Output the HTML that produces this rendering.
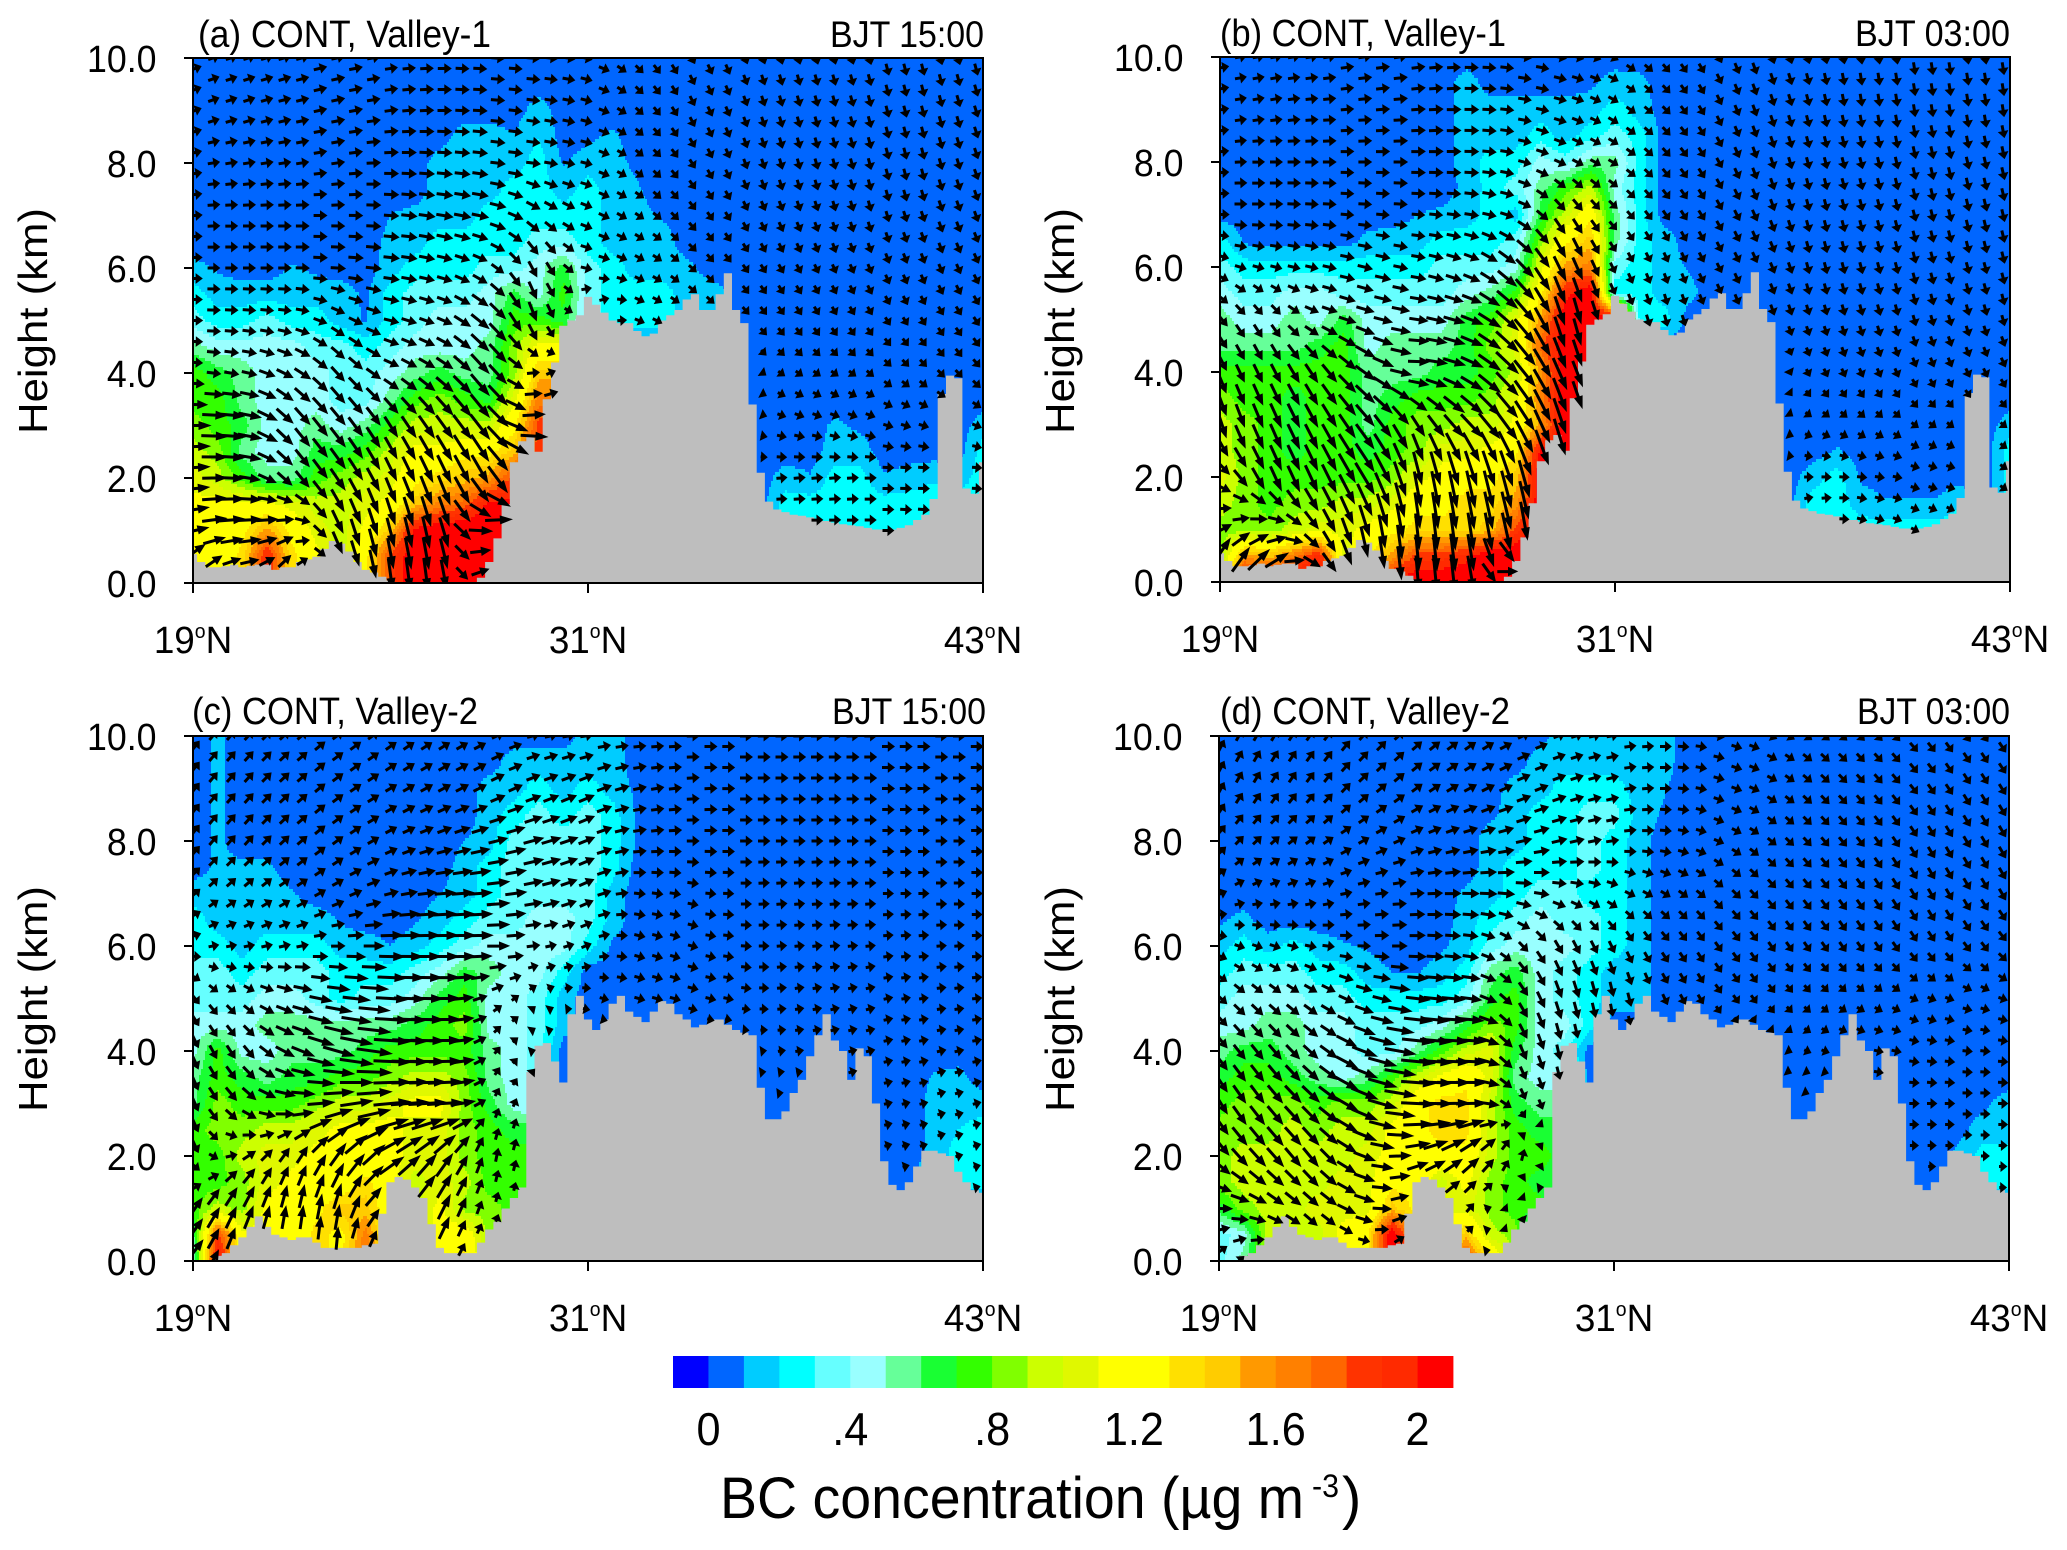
<!DOCTYPE html>
<html lang="en">
<head>
<meta charset="utf-8">
<title>BC concentration cross-sections</title>
<style>
html,body{margin:0;padding:0;background:#fff}
svg{display:block}
text{font-family:"Liberation Sans",sans-serif;fill:#000}
</style>
</head>
<body>
<svg id="figure" xmlns="http://www.w3.org/2000/svg" width="2067" height="1550" viewBox="0 0 2067 1550">
<rect width="2067" height="1550" fill="#fff"/>
<g id="plots"></g>

<text x="198" y="47" font-size="38" textLength="293" lengthAdjust="spacingAndGlyphs">(a) CONT, Valley-1</text>
<text x="830" y="47" font-size="37" textLength="154" lengthAdjust="spacingAndGlyphs">BJT 15:00</text>
<text x="1220" y="46" font-size="38" textLength="286" lengthAdjust="spacingAndGlyphs">(b) CONT, Valley-1</text>
<text x="1855" y="46" font-size="37" textLength="155" lengthAdjust="spacingAndGlyphs">BJT 03:00</text>
<text x="192" y="724" font-size="38" textLength="286" lengthAdjust="spacingAndGlyphs">(c) CONT, Valley-2</text>
<text x="832" y="724" font-size="37" textLength="154" lengthAdjust="spacingAndGlyphs">BJT 15:00</text>
<text x="1220" y="724" font-size="38" textLength="290" lengthAdjust="spacingAndGlyphs">(d) CONT, Valley-2</text>
<text x="1857" y="724" font-size="37" textLength="153" lengthAdjust="spacingAndGlyphs">BJT 03:00</text>

<text transform="translate(47,434) rotate(-90)" font-size="41" textLength="226" lengthAdjust="spacingAndGlyphs">Height (km)</text>
<text transform="translate(1074,434) rotate(-90)" font-size="41" textLength="226" lengthAdjust="spacingAndGlyphs">Height (km)</text>
<text transform="translate(47,1112) rotate(-90)" font-size="41" textLength="226" lengthAdjust="spacingAndGlyphs">Height (km)</text>
<text transform="translate(1074,1112) rotate(-90)" font-size="41" textLength="226" lengthAdjust="spacingAndGlyphs">Height (km)</text>

<g id="colorbar"></g>
<text x="720" y="1518" font-size="58" textLength="584" lengthAdjust="spacingAndGlyphs">BC concentration (µg m</text>
<text x="1312" y="1497" font-size="32" textLength="27" lengthAdjust="spacingAndGlyphs">-3</text>
<text x="1342" y="1518" font-size="58">)</text>
</svg>

<script>
// ---- Axis ticks ----
const heightTicks = [0, 2, 4, 6, 8, 10];
const heightTickLabels = ["0.0", "2.0", "4.0", "6.0", "8.0", "10.0"];
const latTicks = [19, 31, 43];
const latTickLabels = ["19", "31", "43"];

// ---- Colour scale: one colour per 0.1 ug/m3 band ----
const bandColors = ["#0000ff","#0066ff","#00ccff","#00ffff","#66ffff","#99ffff","#66ff99","#19ff33","#33ff00","#80ff00","#ccff00","#e0f800","#ffff00","#ffff00","#ffe000","#ffcc00","#ff9900","#ff8000","#ff6600","#ff3300","#ff2a00","#ff0000"];
const colorbarTicks = [1, 5, 9, 13, 17, 21];
const colorbarTickLabels = ["0", ".4", ".8", "1.2", "1.6", "2"];

// ---- Terrain height (km) every 0.25 deg latitude from 19N ----
const terrainValley1 = [.55,.4,.3,.3,.32,.35,.3,.33,.35,.35,.25,.3,.3,.4,.45,.5,.65,.8,.75,.6,.4,.25,.2,.12,.05,0,0,0,0,0,0,0,0,0,0,.1,.4,.85,1.5,2.3,2.7,2.8,2.5,3.5,4.2,4.9,5,5.1,5.45,5.3,5.15,5,4.95,4.95,4.8,4.7,4.75,5,5.1,5.2,5.4,5.5,5.2,5.2,5.5,5.9,5.2,4.95,3.4,2.1,1.55,1.4,1.35,1.3,1.28,1.25,1.22,1.18,1.15,1.12,1.1,1.08,1.05,1.02,1.02,1.02,1.05,1.1,1.2,1.3,1.6,3.6,3.95,3.9,1.8,1.7,2.3];
const terrainValley2 = [0,0,.02,.1,.15,.3,.45,.65,.85,.65,.5,.45,.4,.45,.45,.35,.25,.25,.25,.25,.25,.3,.33,.9,1.5,1.6,1.55,1.4,1.2,.7,.25,.15,.15,.15,.15,.35,.6,.75,1,1.2,1.4,3.6,4.1,4.15,3.8,3.4,4.7,5.05,4.6,4.4,4.6,4.9,5.05,4.75,4.65,4.55,4.75,4.95,4.9,4.7,4.6,4.45,4.5,4.6,4.6,4.5,4.4,4.35,4.3,3.3,2.7,2.7,2.85,3.2,3.45,3.9,4.3,4.7,4.2,4,3.45,4.05,3.9,3,1.9,1.45,1.35,1.5,1.8,2.1,2.1,2.05,2,1.7,1.5,1.35,1.3];

// ---- BC concentration in 0.1 ug/m3 units. Rows: 10 km down to 0 km every 0.5 km.
//      Columns: 19N northward every 0.75 deg. Omitted trailing columns are 0. ----
const bcPanelA = [
[],
[],
[0,0,0,0,0,0,0,0,0,0,0,0,0,0,1],
[0,0,0,0,0,0,0,0,0,0,0,1,1,.6,1.5,0,.3,.7],
[0,0,0,0,0,0,0,0,0,0,1,1.5,1,1,2,.4,1,.8,.3],
[0,0,0,0,0,0,0,0,0,0,1,1,1,2,2,1,2,1,.6],
[0,0,0,0,0,0,0,0,.5,.8,1,1,2,2,2,2,2,1,.8,.4],
[0,0,0,0,0,0,0,0,.8,1,2,2,2,2,3,3,2,1,1,1],
[.8,.4,0,0,.6,.3,0,0,1,2,2,2,3,3,4,6,3,2,1,1,.8],
[2,1,1,1,1,1,1,.3,2,3,3,3,4,6,4,7,3,2,2,2,1,1,.3],
[3,2,2,3,2,2,1,.4,2,3,4,4,4,7,7,6,3,2,2,2,1,1],
[5,4,4,4,4,3,3,2,3,4,4,4,5,8,11,11],
[7,6,5,4,4,4,3,3,4,5,6,5,5,8,14,14],
[7,7,5,4,4,4,3,3,5,7,8,7,6,10,16,16],
[8,7,6,4,4,5,4,5,7,9,9,9,9,12,18,18,0,0,0,0,0,0,0,0,0,0,.7,.3,0,0,0,0,1],
[9,8,5,4,4,6,6,7,9,11,11,12,12,14,18,18,0,0,0,0,0,0,0,0,0,0,1,1,0,0,0,0,2],
[10,9,7,5,5,7,8,9,10,12,13,14,15,18,18,18,0,0,0,0,0,0,0,0,1,.6,2,2,.6,1,1.4,1,2],
[11,11,11,11,10,9,9,10,11,14,16,17,20,20,0,0,0,0,0,0,0,0,0,0,2,2,2,2,2,2,2,2,2],
[11,11,12,15,12,10,9,11,14,20,21,21,21,21,0,0,0,0,0,0,0,0,0,0,2,2,2,2,2,2,2,2,2],
[11,11,13,19,13,11,9,12,18,21,21,21,21,21],
[11,11,13,19,13,11,9,12,18,21,21,21,21,21]
];
const bcPanelB = [
[],
[0,0,0,0,0,0,0,0,0,0,1,0,0,0,0,.3,1,.8],
[0,0,0,0,0,0,0,0,0,0,1,1,1,1,1,1,2,1],
[0,0,0,0,0,0,0,0,0,0,1,1,1,2,1,2,3,2],
[0,0,0,0,0,0,0,0,0,0,1,2,2,4,3,5,5,2],
[0,0,0,0,0,0,0,0,0,0,.8,2,3,5,7,9,4,2],
[0,0,0,0,0,0,0,0,.5,.7,1,2,1,6,9,12,5,2],
[2,.3,0,0,0,0,.8,1,1,2,2,2,3,8,12,14,5,2,1],
[3,2,2,2,2,2,2,2,2,3,3,3,4,10,15,16,3,2,1,.4],
[4,3,3,4,4,3,3,3,3,3,4,5,7,12,19,21,2,2,1,.8],
[5,4,4,5,4,6,4,4,4,4,6,7,10,15,21,21,21,2,2],
[5,5,5,5,6,7,4,5,5,5,6,8,10,17,21,21],
[7,7,7,7,7,7,5,5,5,6,6,7,9,15,21,21],
[8,7,7,6,7,7,5,6,7,7,7,8,10,16,21,21],
[9,8,7,6,7,7,5,7,8,8,9,9,11,15,21,21,0,0,0,0,0,0,0,0,0,0,0,0,0,0,0,0,1],
[9,8,7,6,7,7,6,7,8,10,10,11,12,20,21,21,0,0,0,0,0,0,0,0,0,.6,0,0,0,0,0,0,2],
[10,8,7,7,7,7,7,8,10,11,12,12,14,21,21,0,0,0,0,0,0,0,0,0,1,2,.3,0,0,0,0,0,2],
[9,8,7,8,8,9,9,10,12,12,13,13,15,21,21,0,0,0,0,0,0,0,0,0,2,2,1,.6,.6,.6,1.5,0,2],
[8,8,8,9,10,10,11,12,13,13,13,14,18,21,0,0,0,0,0,0,0,0,0,0,2,2,2,2,2,2,2],
[8,15,14,16,19,10,12,15,18,18,19,21,21,21],
[10,21,21,21,21,12,14,20,21,21,21,21,21,21]
];
const bcPanelC = [
[0,.7,0,0,0,0,0,0,0,0,0,0,0,0,0,0,1,1],
[0,.7,0,0,0,0,0,0,0,0,0,0,0,1,1,1,1,1],
[0,.7,0,0,0,0,0,0,0,0,0,0,1,1,2,1,2,1,.3],
[0,.7,0,0,0,0,0,0,0,0,0,0,1,2,3,2,3,2,.3],
[0,.7,0,0,0,0,0,0,0,0,0,.5,1,3,3,3,3,2,.4],
[0,.7,.7,.7,0,0,0,0,0,0,0,1,2,3,3,3,3,2],
[1,1,1,1,.6,0,0,0,0,0,.5,1,2,3,3,3,3,1],
[2,1,1,1,1,1,.4,0,0,.4,1,2,3,3,4,4,3,1],
[2,2,1,2,2,2,1,1,.5,1,2,3,4,4,4,4,2,.3],
[3,3,2,3,3,3,2,2,2,3,4,6,5,4,4,2],
[3,3,3,4,4,3,2,3,3,4,6,7,4,4,3,1],
[4,4,4,5,5,5,5,5,5,6,7,8,4,4,3,1],
[4,7,4,4,5,5,5,6,7,7,7,7,5,4,3],
[5,7,6,5,6,6,7,7,8,9,9,8,5,4,3,0,0,0,0,0,0,0,0,0,0,0,0,0,0,0,.6,.8],
[5,8,7,7,7,8,9,9,10,11,11,8,6,4,3,0,0,0,0,0,0,0,0,0,0,0,0,0,0,0,.8,1,1],
[7,8,8,9,9,10,11,11,11,10,10,8,7,6,6,0,0,0,0,0,0,0,0,0,0,0,0,0,0,0,.8,1.5,2],
[7,7,9,10,10,11,11,11,11,10,10,8,7,7,7,0,0,0,0,0,0,0,0,0,0,0,0,0,0,0,.8,2,2],
[7,7,8,10,11,11,11,13,11,9,10,9,7,7,7,0,0,0,0,0,0,0,0,0,0,0,0,0,0,0,2,2,2],
[7,9,8,11,11,12,14,14,11,9,11,8,8,7,7],
[5,18,11,11,11,13,12,16,11,9,11,12,8,8,8],
[4,21,11,11,11,13,12,17,11,9,12,13,8,8,8]
];
const bcPanelD = [
[0,0,0,0,0,0,0,0,0,0,0,0,0,.2,1,1,1,1,1],
[0,0,0,0,0,0,0,0,0,0,0,0,0,1,1,1,1,1,.9],
[0,0,0,0,0,0,0,0,0,0,0,0,1,1,2,2,2,1,.6],
[0,0,0,0,0,0,0,0,0,0,0,.3,1,2,2,3,3,1,.4],
[0,0,0,0,0,0,0,0,0,0,0,1,1,2,2,3,2,1],
[0,0,0,0,0,0,0,0,0,0,0,1,2,2,2,3,2,1],
[0,0,0,0,0,0,0,0,0,0,.7,1,2,3,3,2,2,1],
[.3,.8,0,0,0,0,0,0,0,0,1,2,3,4,3,3,2,1],
[1,2,1,2,1,.6,.4,0,0,.3,1,3,4,4,4,3,2,1],
[2,3,3,3,2,2,1,.5,.4,1,2,5,6,4,3,2,1,1],
[3,4,4,4,3,3,2,2,2,2,3,6,7,4,3,2,1,1],
[4,4,5,5,4,4,3,3,3,4,6,8,7,4,4,2],
[5,6,6,5,4,4,3,3,5,7,9,10,6,4,3],
[6,7,7,6,5,4,5,7,9,11,12,10,5,4,4],
[7,8,8,8,7,8,8,9,12,13,13,9,6,5,5,0,0,0,0,0,0,0,0,0,0,0,0,0,0,0,0,.3,1],
[8,8,8,9,8,9,9,11,12,13,13,9,7,6,6,0,0,0,0,0,0,0,0,0,0,0,0,0,0,0,.2,1,1],
[8,9,9,9,9,9,10,11,12,12,12,9,7,7,6,0,0,0,0,0,0,0,0,0,0,0,0,0,0,0,.8,2,2],
[8,9,9,9,9,10,10,12,12,9,11,8,7,6,6,0,0,0,0,0,0,0,0,0,0,0,0,0,0,0,1,2,2],
[6,8,9,9,10,10,10,14,12,10,10,8,7,7],
[3,4,9,9,9,11,12,21,14,11,14,9,8],
[3,5,9,9,9,11,12,21,14,11,18,13,8]
];

// ---- Wind arrows. Rows: 10 km down to 0 km every 1 km. Columns: 19N northward every 1.5 deg. ----
const windUPanelA = [
[11,12,13,14,13,14,14,14,12,8,5,4,3,3,3,3,3],
[11,12,13,14,14,15,15,14,12,8,5,4,3,3,3,3,4],
[12,13,13,14,15,16,16,15,12,8,6,4,3,3,3,3,4],
[13,13,14,14,16,18,18,14,12,9,7,5,4,3,3,4,4],
[13,13,14,16,17,16,14,8,12,10,8,6,5,4,4,4,5],
[14,14,14,14,16,16,20,6,8,10,9,7,6,5,5,5,6],
[14,16,18,14,16,18,20,12,0,0,0,0,7,7,7,7,7],
[30,28,16,16,14,18,22,28,0,0,0,0,10,10,10,10,9],
[28,24,14,16,12,14,18,40,0,0,0,0,12,12,12,12,10],
[26,28,18,10,8,8,30,38,0,0,0,0,12,12,12,12,10],
[8,16,8,8,4,4,20,30,0,0,0,0,0,0,0,0,0]
];
const windWPanelA = [
[4,4,4,3,2,0,-1,-1,-3,-8,-10,-10,-11,-11,-12,-12,-12],
[4,4,3,3,2,0,-1,-2,-3,-7,-10,-10,-11,-11,-12,-12,-12],
[2,2,2,2,0,-1,-2,-2,-3,-6,-9,-10,-11,-11,-12,-12,-11],
[1,0,0,0,-1,-3,-4,-10,-5,-6,-8,-9,-10,-10,-11,-11,-11],
[0,0,0,-1,-2,-4,-8,-18,-2,-5,-7,-8,-9,-9,-10,-10,-10],
[0,-1,-2,-8,-4,-6,-18,-22,10,-4,-6,-7,-8,-8,-8,-8,-9],
[-1,-3,-10,-16,-8,-12,-25,5,0,0,0,0,-5,-5,-6,-7,-8],
[0,-3,-20,-20,-22,-25,-28,6,0,0,0,0,-3,-3,-3,-3,-4],
[2,-2,-16,-24,-26,-32,-32,-12,0,0,0,0,1,1,0,0,0],
[6,2,6,-28,-32,-36,8,14,0,0,0,0,0,0,0,-2,-2],
[25,4,20,-20,-36,-36,20,20,0,0,0,0,0,0,0,0,0]
];
const windUPanelB = [
[12,12,13,14,14,14,14,13,10,7,5,4,3,2,2,2,2],
[12,12,13,14,15,15,14,13,10,8,5,4,3,2,2,2,2],
[12,13,14,14,15,15,14,12,10,8,6,4,3,3,3,3,3],
[13,14,14,14,14,15,14,10,8,7,6,5,3,3,3,3,3],
[12,12,14,16,15,16,20,12,5,4,5,5,3,3,3,3,3],
[10,8,16,20,20,24,25,8,5,3,4,4,3,3,3,3,3],
[8,10,14,22,24,24,25,14,0,0,0,0,4,4,4,4,5],
[8,12,14,20,14,24,22,12,0,0,0,0,7,7,7,7,6],
[16,12,14,22,8,10,12,10,0,0,0,0,10,10,9,9,7],
[18,20,14,8,4,6,10,-10,0,0,0,0,9,10,8,7,5],
[12,30,18,3,3,5,30,10,0,0,0,0,0,0,0,0,0]
];
const windWPanelB = [
[2,2,2,2,2,0,-2,-3,-5,-8,-10,-12,-12,-13,-13,-13,-13],
[2,2,1,1,1,0,-2,-4,-6,-8,-10,-12,-12,-13,-13,-13,-13],
[1,0,0,0,0,0,-3,-6,-6,-9,-10,-12,-12,-12,-13,-13,-13],
[0,0,-1,-1,-1,-2,-5,-15,-8,-10,-10,-12,-12,-12,-12,-13,-13],
[-4,-3,-3,-4,-3,-6,-18,-28,-10,-10,-10,-11,-12,-12,-12,-12,-12],
[-12,-12,-6,-6,-3,-8,-25,-34,-12,-12,-10,-11,-10,-11,-11,-11,-11],
[-18,-20,-20,-15,0,-10,-28,-36,0,0,0,0,-8,-9,-9,-9,-9],
[-25,-28,-26,-25,-22,-25,-32,-42,0,0,0,0,-4,-5,-5,-5,-5],
[-12,-26,-30,-36,-40,-42,-42,-40,0,0,0,0,0,-1,-2,-2,-5],
[10,4,-20,-36,-40,-42,-42,-50,0,0,0,0,4,-3,-4,-5,-6],
[45,30,-15,-30,-40,-44,25,70,0,0,0,0,0,0,0,0,0]
];
const windUPanelC = [
[8,9,10,11,11,11,12,13,13,13,13,13,13,13,13,13,13],
[8,9,10,11,12,13,14,15,16,14,13,13,13,13,13,13,13],
[8,9,10,11,12,15,20,22,17,14,13,13,12,12,12,12,12],
[9,10,11,12,15,22,26,20,15,12,11,11,11,11,11,11,11],
[10,11,12,15,26,30,26,12,10,11,10,11,10,10,10,10,10],
[8,10,20,28,36,34,10,4,8,11,11,10,9,9,9,9,10],
[6,10,22,36,42,38,6,3,0,0,0,0,8,8,9,9,9],
[6,14,24,34,42,44,4,3,0,0,0,0,0,8,8,8,8],
[6,14,10,18,28,20,3,3,0,0,0,0,0,0,7,7,7],
[14,12,4,6,20,14,3,0,0,0,0,0,0,0,0,5,5],
[16,4,0,0,4,8,3,0,0,0,0,0,0,0,0,0,0]
];
const windWPanelC = [
[10,10,9,8,8,7,6,3,2,1,0,0,0,0,0,0,0],
[10,10,9,8,7,7,7,6,7,3,1,0,0,0,0,0,0],
[10,10,9,8,6,5,5,6,7,2,0,0,0,0,0,0,0],
[8,8,7,6,4,2,2,4,7,-1,-2,0,1,1,0,0,0],
[2,2,3,0,0,0,0,2,4,-3,-3,-1,1,1,1,1,0],
[-10,-8,-6,-4,-2,0,6,4,-2,-3,-3,-2,1,2,2,1,1],
[-14,-14,-10,-10,-3,0,8,0,0,0,0,0,1,2,2,2,2],
[-14,-14,-2,6,4,2,8,8,0,0,0,0,0,2,2,2,2],
[-14,8,16,25,20,25,15,10,0,0,0,0,0,0,2,2,2],
[20,25,26,28,14,28,10,0,0,0,0,0,0,0,0,1,1],
[20,22,20,22,12,20,0,0,0,0,0,0,0,0,0,0,0]
];
const windUPanelD = [
[6,7,8,9,10,11,12,12,12,12,11,10,9,8,8,7,7],
[6,7,8,10,11,13,14,14,13,12,11,10,9,8,8,7,7],
[8,9,10,11,13,15,17,16,13,12,10,9,8,8,7,7,7],
[10,10,11,13,15,18,18,14,11,10,9,8,8,8,7,7,7],
[10,11,12,14,17,16,10,8,6,7,7,7,7,7,7,7,8],
[11,12,14,18,26,24,10,6,3,5,6,6,6,7,8,9,9],
[12,13,16,28,38,36,8,3,0,0,0,0,7,9,10,10,10],
[12,16,20,30,38,36,5,3,0,0,0,0,0,9,10,10,10],
[16,18,16,24,24,22,3,3,0,0,0,0,0,0,8,8,8],
[22,18,16,22,16,8,3,3,0,0,0,0,0,0,0,6,6],
[8,12,4,6,4,3,0,0,0,0,0,0,0,0,0,0,0]
];
const windWPanelD = [
[12,12,11,10,9,8,6,4,2,0,-2,-4,-7,-8,-9,-10,-10],
[11,11,10,9,8,7,6,5,3,0,-3,-5,-8,-9,-10,-11,-11],
[9,8,7,6,5,4,4,4,2,-1,-4,-7,-9,-10,-11,-12,-12],
[4,3,3,2,1,0,-2,-3,-5,-6,-8,-9,-10,-11,-12,-12,-12],
[-3,-4,-2,0,0,-2,-9,-15,-12,-10,-10,-10,-10,-10,-10,-10,-9],
[-10,-10,-9,-6,-3,-2,-14,-20,-16,-11,-9,-8,-6,-5,-4,-3,-3],
[-15,-16,-14,-10,-4,-1,-16,-16,0,0,0,0,-3,-2,-2,-1,-1],
[-20,-20,-18,-12,-2,2,-10,-10,0,0,0,0,0,-1,0,0,0],
[-18,-20,-20,-8,6,18,14,0,0,0,0,0,0,0,0,0,0],
[0,-10,-14,-6,12,10,-8,0,0,0,0,0,0,0,0,0,0],
[10,6,-10,0,10,0,0,0,0,0,0,0,0,0,0,0,0]
];

(function () {
  const NS = 'http://www.w3.org/2000/svg';
  const LAT_MIN = 19, LAT_MAX = 43, H_MAX = 10;
  const panels = [
    { id: 'a', bc: bcPanelA, u: windUPanelA, w: windWPanelA, terrain: terrainValley1, L: 193, R: 983, T: 58, B: 583 },
    { id: 'b', bc: bcPanelB, u: windUPanelB, w: windWPanelB, terrain: terrainValley1, L: 1220, R: 2010, T: 57, B: 582 },
    { id: 'c', bc: bcPanelC, u: windUPanelC, w: windWPanelC, terrain: terrainValley2, L: 193, R: 983, T: 736, B: 1261 },
    { id: 'd', bc: bcPanelD, u: windUPanelD, w: windWPanelD, terrain: terrainValley2, L: 1219, R: 2009, T: 736, B: 1261 }
  ];
  const COL_STAGGER = 'ABBBBBBABABAAAAAABABBBBAAAAABAABBBBBBBBAAABBA';

  function make(tag, attrs, parent) {
    const el = document.createElementNS(NS, tag);
    for (const k in attrs) el.setAttribute(k, attrs[k]);
    parent.appendChild(el);
    return el;
  }

  function sampleGrid(grid, rowFloat, colFloat) {
    const r0 = Math.min(Math.floor(rowFloat), grid.length - 1);
    const r1 = Math.min(r0 + 1, grid.length - 1);
    const c0 = Math.floor(colFloat), c1 = c0 + 1;
    const fr = rowFloat - r0, fc = colFloat - c0;
    const v = (r, c) => { const x = grid[r][c]; return x === undefined ? 0 : x; };
    return (v(r0, c0) * (1 - fc) + v(r0, c1) * fc) * (1 - fr) + (v(r1, c0) * (1 - fc) + v(r1, c1) * fc) * fr;
  }

  function bandIndex(v) {
    return Math.max(0, Math.min(bandColors.length - 1, 1 + Math.round(v)));
  }

  function drawPanel(p, root) {
    const W = p.R - p.L, H = p.B - p.T;
    const xOf = lat => p.L + (lat - LAT_MIN) / (LAT_MAX - LAT_MIN) * W;
    const yOf = h => p.B - h / H_MAX * H;
    const latOf = x => LAT_MIN + (x - p.L) / W * (LAT_MAX - LAT_MIN);
    const hOf = y => (p.B - y) / H * H_MAX;
    const terrainAt = lat => p.terrain[Math.max(0, Math.min(p.terrain.length - 1, Math.round((lat - LAT_MIN) / 0.25)))];

    const g = make('g', {}, root);
    
    

    const clip = make('clipPath', { id: 'clip-' + p.id }, g);
    make('rect', { x: p.L, y: p.T, width: W, height: H }, clip);

    // concentration bands
    const field = make('g', { 'shape-rendering': 'crispEdges' }, g);
    
    
    const STEP_X = 2, STEP_Y = 3;
    for (let y = p.T; y < p.B; y += STEP_Y) {
      const rowF = (H_MAX - hOf(y + STEP_Y / 2)) / 0.5;
      let runStart = p.L, runBand = -1;
      for (let x = p.L; x <= p.R; x += STEP_X) {
        let band = -2;
        if (x < p.R) {
          const colF = (latOf(x + STEP_X / 2) - LAT_MIN) / 0.75;
          band = bandIndex(sampleGrid(p.bc, rowF, colF));
        }
        if (band !== runBand) {
          if (runBand >= 0) {
            const cell = make('rect', { x: runStart, y: y, width: x - runStart, height: Math.min(STEP_Y, p.B - y), fill: bandColors[runBand] }, field);
            
            
          }
          runStart = x;
          runBand = band;
        }
      }
    }

    // terrain silhouette
    let d = 'M' + p.L + ' ' + p.B;
    p.terrain.forEach((h, i) => {
      const lat = LAT_MIN + i * 0.25;
      const x0 = Math.max(p.L, xOf(lat - 0.125));
      const x1 = Math.min(p.R, xOf(lat + 0.125));
      d += 'L' + x0.toFixed(1) + ' ' + yOf(h).toFixed(1) + 'L' + x1.toFixed(1) + ' ' + yOf(h).toFixed(1);
    });
    d += 'L' + p.R + ' ' + p.B + 'Z';
    const terrain = make('path', { d: d, fill: '#bebebe' }, g);
    
    

    // wind arrows
    const arrows = make('g', { 'clip-path': 'url(#clip-' + p.id + ')', fill: '#000', stroke: '#000', 'stroke-width': 3 }, g);
    
    
    for (let k = 0; k < 45; k++) {
      const cx = p.L + 2 + k * 17.75;
      const lat = latOf(cx);
      const offset = COL_STAGGER[k] === 'A' ? 0.2 : 0;
      for (let n = 0; n <= 25; n++) {
        const h = 10 - offset - n * 0.4;
        if (h < -0.01 || h < terrainAt(lat) - 0.03) continue;
        const rowF = H_MAX - h, colF = (lat - LAT_MIN) / 1.5;
        const dx = sampleGrid(p.u, rowF, colF) * 0.8;
        const dy = -sampleGrid(p.w, rowF, colF) * 0.8;
        const len = Math.hypot(dx, dy);
        if (len < 0.5) continue;
        const cy = yOf(h), ux = dx / len, uy = dy / len;
        const tx = cx - dx / 2, ty = cy - dy / 2, hx = cx + dx / 2, hy = cy + dy / 2;
        const head = Math.min(7, Math.max(3, len * 0.3));
        const nx = hx - ux * head, ny = hy - uy * head;
        const path = 'M' + tx.toFixed(1) + ' ' + ty.toFixed(1) + 'L' + nx.toFixed(1) + ' ' + ny.toFixed(1) +
          'M' + (nx - uy * 2.4).toFixed(1) + ' ' + (ny + ux * 2.4).toFixed(1) + 'L' + hx.toFixed(1) + ' ' + hy.toFixed(1) +
          'L' + (nx + uy * 2.4).toFixed(1) + ' ' + (ny - ux * 2.4).toFixed(1) + 'Z';
        const arrow = make('path', { d: path }, arrows);
        
        
      }
    }

    // frame
    const frame = make('rect', { x: p.L, y: p.T, width: W, height: H, fill: 'none', stroke: '#000', 'stroke-width': 2 }, g);
    
    

    // y axis
    heightTicks.forEach((t, i) => {
      const tick = make('line', { x1: p.L - 9, x2: p.L, y1: yOf(t), y2: yOf(t), stroke: '#000', 'stroke-width': 2 }, g);
      
      
      const label = make('text', { transform: 'translate(' + (p.L - 36.5) + ',' + (yOf(t) + 14) + ') scale(.94,1)', 'text-anchor': 'end', 'font-size': 38 }, g);
      
      
      label.textContent = heightTickLabels[i];
    });

    // x axis
    latTicks.forEach((t, i) => {
      const tick = make('line', { x1: xOf(t), x2: xOf(t), y1: p.B, y2: p.B + 10, stroke: '#000', 'stroke-width': 2 }, g);
      
      
      const label = make('text', { transform: 'translate(' + xOf(t) + ',' + (p.B + 70) + ') scale(.97,1)', 'text-anchor': 'middle', 'font-size': 38 }, g);
      
      
      const num = make('tspan', {}, label);
      num.textContent = latTickLabels[i];
      const deg = make('tspan', { 'font-size': 20, dy: -15 }, label);
      deg.textContent = 'o';
      const north = make('tspan', { dy: 15 }, label);
      north.textContent = 'N';
    });
  }

  const root = document.getElementById('plots');
  panels.forEach(p => drawPanel(p, root));

  // colour bar
  const bar = document.getElementById('colorbar');
  const BAR_L = 673, BAR_R = 1453, BAR_T = 1356, BAR_B = 1388;
  const boxW = (BAR_R - BAR_L) / bandColors.length;
  bandColors.forEach((c, i) => {
    const box = make('rect', { x: BAR_L + i * boxW, y: BAR_T, width: boxW + 0.4, height: BAR_B - BAR_T, fill: c }, bar);
    
    
  });
  colorbarTicks.forEach((t, i) => {
    const label = make('text', { transform: 'translate(' + (BAR_L + t * boxW) + ',1445) scale(.94,1)', 'text-anchor': 'middle', 'font-size': 46 }, bar);
    
    
    label.textContent = colorbarTickLabels[i];
  });
})();
</script>
</body>
</html>
